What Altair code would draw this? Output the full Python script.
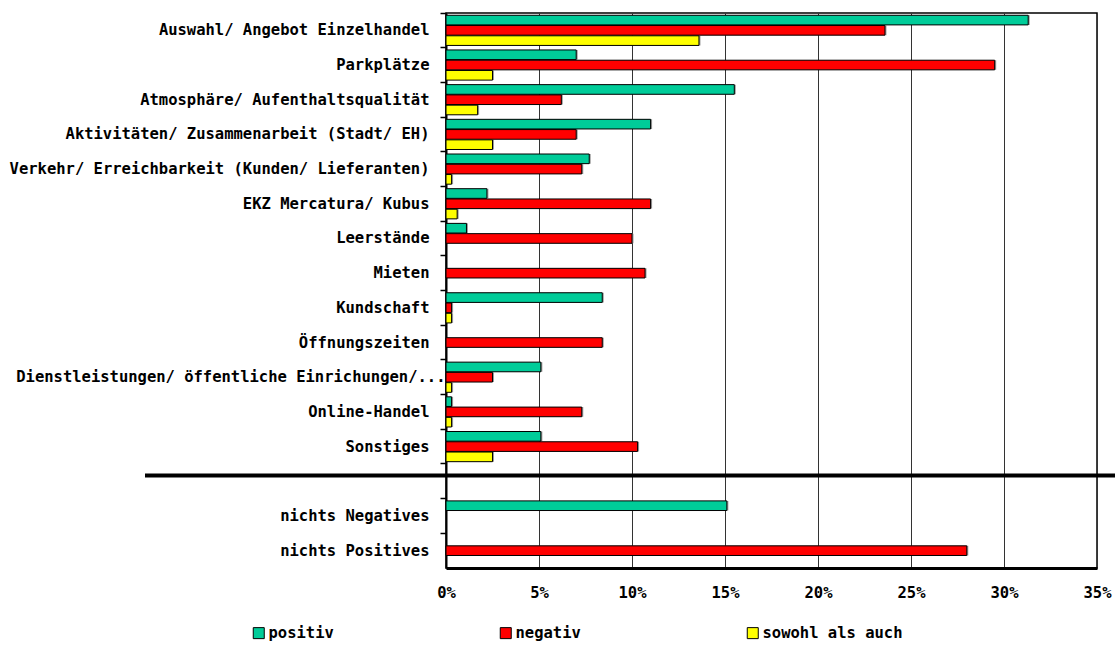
import altair as alt
import pandas as pd

# Survey answers: share of mentions (%) per topic, split by tone
categories = [
    "Auswahl/ Angebot Einzelhandel",
    "Parkplätze",
    "Atmosphäre/ Aufenthaltsqualität",
    "Aktivitäten/ Zusammenarbeit (Stadt/ EH)",
    "Verkehr/ Erreichbarkeit (Kunden/ Lieferanten)",
    "EKZ Mercatura/ Kubus",
    "Leerstände",
    "Mieten",
    "Kundschaft",
    "Öffnungszeiten",
    "Dienstleistungen/ öffentliche Einrichungen/...",
    "Online-Handel",
    "Sonstiges",
    " ",
    "nichts Negatives",
    "nichts Positives",
]
series = ["positiv", "negativ", "sowohl als auch"]
colors = ["#00CC99", "#FF0000", "#FFFF00"]

positiv = [31.3, 7.0, 15.5, 11.0, 7.7, 2.2, 1.1, None, 8.4, None, 5.1, 0.3, 5.1, None, 15.1, None]
negativ = [23.6, 29.5, 6.2, 7.0, 7.3, 11.0, 10.0, 10.7, 0.3, 8.4, 2.5, 7.3, 10.3, None, None, 28.0]
sowohl = [13.6, 2.5, 1.7, 2.5, 0.3, 0.6, None, None, 0.3, None, 0.3, 0.3, 2.5, None, None, None]

x_ticks = [0, 5, 10, 15, 20, 25, 30, 35]

rows = []
for name, values in zip(series, [positiv, negativ, sowohl]):
    for cat, v in zip(categories, values):
        if v is not None:
            rows.append({"Kategorie": cat, "Bewertung": name, "Anteil": v})
df = pd.DataFrame(rows)

FONT = "DejaVu Sans Mono"
PLOT_W, PLOT_H = 651, 555

y_enc = alt.Y(
    "Kategorie:N",
    sort=categories,
    scale=alt.Scale(domain=categories, paddingInner=0, paddingOuter=0),
    axis=alt.Axis(
        title=None,
        bandPosition=0,
        labelPadding={
            "condition": {"test": "indexof(datum.value, 'Dienst') === 0", "value": -5},
            "value": 11,
        },
        labelFont=FONT,
        labelFontSize=15.5,
        labelFontWeight="bold",
        labelColor="black",
        labelLimit=500,
        tickSize=6,
        tickColor="black",
        tickWidth=1.5,
        domainColor="black",
        domainWidth=2,
        grid=False,
    ),
)
yoff_enc = alt.YOffset(
    "Bewertung:N",
    sort=series,
    scale=alt.Scale(domain=series, paddingInner=0.06, paddingOuter=0.22),
)
x_enc = alt.X(
    "Anteil:Q",
    scale=alt.Scale(domain=[0, 35], nice=False),
    axis=alt.Axis(
        title=None,
        values=x_ticks,
        labelExpr="datum.value + '%'",
        labelFlush=False,
        labelFont=FONT,
        labelFontSize=15.5,
        labelFontWeight="bold",
        labelColor="black",
        labelPadding=17,
        ticks=False,
        domainColor="black",
        domainWidth=3,
        grid=True,
        gridColor="#333333",
        gridWidth=1,
    ),
)

base = alt.Chart(df)

shadow = base.mark_bar(color="#9a9a9a", xOffset=1.5, yOffset=1.5).encode(
    x=x_enc, y=y_enc, yOffset=yoff_enc
)

bars = base.mark_bar(stroke="black", strokeWidth=1).encode(
    x=x_enc,
    y=y_enc,
    yOffset=yoff_enc,
    color=alt.Color(
        "Bewertung:N",
        sort=series,
        scale=alt.Scale(domain=series, range=colors),
        legend=alt.Legend(
            title=None,
            orient="none",
            direction="horizontal",
            columns=3,
            gridAlign="all",
            columnPadding=89,
            legendX=-195,
            legendY=612,
            padding=0,
            symbolType="square",
            symbolSize=121,
            symbolStrokeColor="black",
            symbolStrokeWidth=1,
            symbolOpacity=1,
            labelOffset=2,
            labelFont=FONT,
            labelFontSize=15.5,
            labelFontWeight="bold",
            labelColor="black",
            labelLimit=300,
        ),
    ),
)

# Heavy divider between the topic block and the two summary rows
divider = alt.Chart(pd.DataFrame({"y": [0]})).mark_rule(
    color="black", strokeWidth=4
).encode(x=alt.value(-301), x2=alt.value(669), y=alt.value(462.4))

chart = (
    alt.layer(shadow, bars, divider)
    .properties(
        width=PLOT_W,
        height=PLOT_H,
        autosize=alt.AutoSizeParams(type="none"),
        padding={"left": 446, "top": 13, "right": 18, "bottom": 82},
        background="white",
    )
    .configure_view(stroke="black", strokeWidth=1.5)
)

chart.save("out.html", embed_options={"renderer": "svg", "actions": False})
